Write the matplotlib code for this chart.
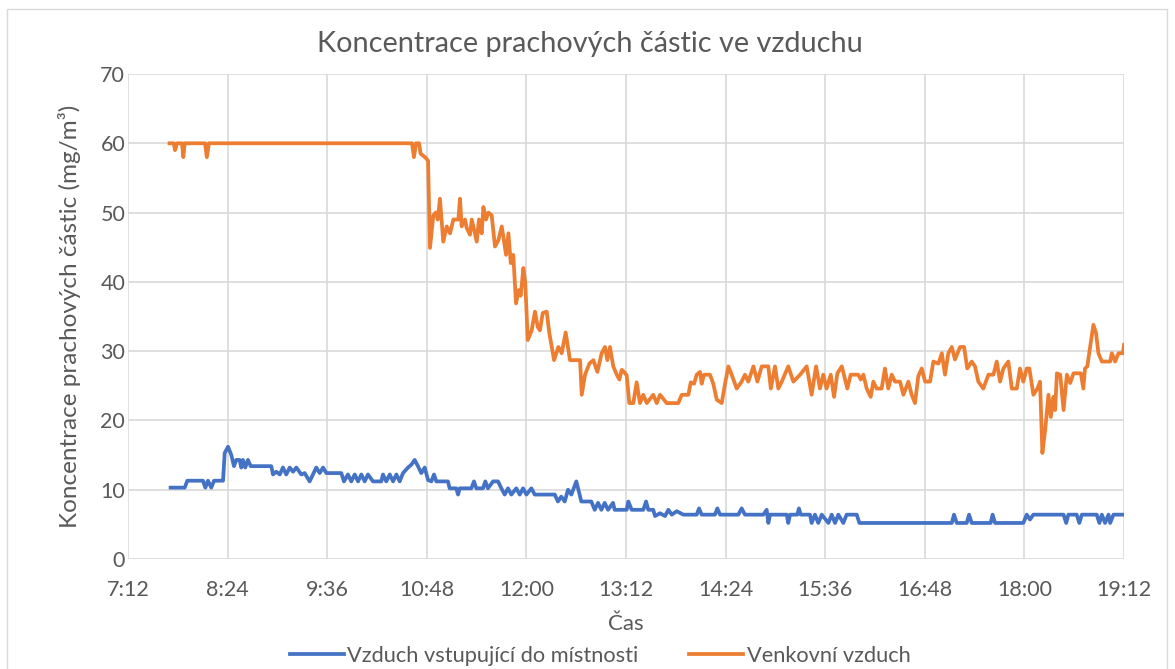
import matplotlib.pyplot as plt
from matplotlib.patches import Rectangle
from matplotlib.ticker import FixedLocator, FuncFormatter

plt.rcParams['font.family'] = ['Lato', 'DejaVu Sans']

# cas v minutach od pulnoci
t_venku = [462, 465, 466, 467.4, 471, 472, 473, 487.7, 489, 490.5, 637.3, 638.7, 640.2, 642.4,
           643.5, 646.7, 648.9, 650.3, 652.7, 654.6, 655.9, 657.5, 659.9, 662.4, 664.8, 667.2,
           670.8, 672, 673.2, 675.6, 676.8, 679.2, 680.5, 682.1, 684.1, 685.7, 687.7, 688.9,
           690.8, 692.5, 694.9, 697.3, 699.7, 702.2, 705.3, 707, 708.7, 710.5, 712.5, 714.4,
           715.9, 717.8, 719.2, 721, 723.8, 726.2, 728.2, 729.8, 731.8, 734.7, 736.5, 740,
           743.1, 745.5, 748.4, 751.5, 758.8, 760, 762.4, 765.5, 768.4, 771.3, 774.4, 776.8,
           778.5, 780.4, 782.8, 785.3, 787.2, 788.9, 790.6, 792.5, 794.4, 797.3, 799.7, 802.1,
           804.5, 807, 811.7, 814.2, 816.6, 821.4, 829.8, 832.3, 837.1, 838.8, 841.2, 843.1,
           845.5, 846.7, 848.4, 852.7, 855.1, 857.6, 861.2, 863.6, 866, 868.4, 872, 875.6,
           878, 880.4, 884.1, 887, 890.1, 894.9, 896.7, 899.7, 902.1, 904.6, 909.3, 913,
           917.8, 922.6, 926.2, 929.4, 932.2, 934.6, 937, 940, 942.4, 944.8, 948, 952, 954.4,
           959.9, 961.7, 963.6, 966, 968.9, 970.8, 973.2, 976.8, 979.2, 981.6, 984.1, 986.5,
           990.1, 992.5, 996.1, 998.5, 1000.9, 1003.3, 1005.8, 1008.2, 1011.8, 1014.2, 1017.8,
           1020.3, 1022.6, 1025, 1027.5, 1029.8, 1033.5, 1036.4, 1038.7, 1041.9, 1044.3,
           1046.7, 1050.3, 1054, 1057.6, 1060, 1062.4, 1064.8, 1068.4, 1070.9, 1074.5, 1076.8,
           1079.2, 1081.7, 1083.6, 1086.5, 1089.4, 1091.3, 1093, 1095, 1097.4, 1099.1, 1101,
           1102.2, 1103.5, 1105.9, 1108.3, 1110.7, 1113.1, 1115.5, 1120.8, 1122.6, 1123.8,
           1125.5, 1127.5, 1129.9, 1131.8, 1133.5, 1136, 1142, 1143.2, 1145.6, 1148, 1151.2, 1152]
venku = [60, 60, 59, 60, 60, 58, 60, 60, 58, 60, 60, 58, 60, 60,
         58.5, 58, 57.5, 44.9, 49.6, 50, 49, 52, 45.8, 48, 47, 49,
         49, 52, 48, 49, 47.8, 46.8, 49, 47.6, 45.8, 49, 47, 50.8,
         49, 50, 49.6, 45.1, 46, 48, 43.9, 47, 42.7, 43.9, 36.9, 38.8,
         38, 42, 39.8, 31.6, 33, 35.7, 33.5, 33, 35.5, 35.7, 32.7, 28.7,
         30.6, 29.7, 32.7, 28.7, 28.7, 23.7, 26.6, 28.2, 28.7, 27, 29.7, 30.6,
         28.7, 30.6, 27.8, 26.6, 25.9, 27.3, 27, 26.5, 22.5, 22.5, 25.5, 22.5,
         23.7, 22.5, 23.7, 22.5, 23.7, 22.5, 22.5, 23.7, 23.7, 25.5, 25.3, 26.6,
         27, 25.3, 26.6, 26.6, 25.3, 23, 22.5, 25.3, 27.8, 26.6, 24.6, 25.6,
         26.6, 25.6, 27.8, 25.6, 27.8, 27.8, 24.6, 27.8, 24.6, 25.6, 27.8, 25.6,
         26.6, 27.8, 23.7, 27.8, 24.6, 26.6, 24.6, 26.6, 23.4, 26.8, 27.8, 24.6, 26.6,
         26.6, 25.9, 26.6, 24.6, 23.4, 25.6, 24.6, 24.6, 27.5, 24.6, 26.6, 25.6,
         25.6, 23.7, 25.6, 23.7, 22.5, 26.4, 27.5, 25.6, 25.6, 28.5, 28.2,
         29.7, 26.6, 29.7, 30.6, 28.8, 30.6, 30.6, 27.5, 28.5, 27.8,
         25.6, 24.6, 26.6, 26.6, 28.5, 25.6, 27.5, 28.5, 24.6, 24.6, 27.5,
         25.6, 27.5, 27.5, 23.7, 24.6, 25.6, 15.3, 18.6, 23.7, 20.5, 23.4,
         21.5, 26.8, 26.6, 21.5, 26.6, 25.4, 26.8, 26.8, 24.6, 27.5,
         27.8, 30.6, 33.8, 32.6, 29.7, 28.5, 28.5, 29.7, 28.5, 29.7, 29.7, 30.9]

t_dovnitr = [462.8, 473, 474.9, 486.2, 487.9, 489.8, 492.2, 494.2, 500.7, 501.9, 504.3, 506.7,
             508.6, 510.3, 512.7, 513.9, 515.1, 516.8, 518.7, 520.7, 535.6, 536.8, 539.2, 541.7,
             544, 546.4, 548.9, 551.3, 553.7, 557.3, 559.7, 563.3, 565.7, 568.1, 570.6, 573,
             575.4, 586.2, 588.1, 591, 593.4, 595.9, 598.3, 600.7, 603.1, 605.5, 609.1, 615.1,
             616.3, 618.7, 621.2, 623.6, 626, 628.4, 630.8, 634.4, 636.8, 639.2, 641.6, 644,
             646.5, 648.9, 651.3, 653.2, 654.9, 663.3, 664.5, 669.3, 670.6, 671.8, 680.2, 682.1,
             683.8, 688.6, 690.3, 692.2, 695.9, 699.5, 701.9, 704.3, 706.7, 709.1, 712.7, 715.2,
             717.6, 720, 723.6, 726, 740.5, 742.8, 745.2, 747.7, 750.1, 752.5, 756.1, 759.7,
             766.9, 769.4, 771.8, 774.2, 776.6, 779, 782.6, 783.8, 792.5, 793.7, 796.1, 804.5,
             806.5, 808.1, 811.7, 813, 816.6, 820.2, 822.6, 825.1, 828.7, 833.4, 843.1, 844.8,
             846.7, 856.3, 858, 860, 873.2, 875.6, 878, 891.3, 893.7, 894.9, 896.1, 908.2,
             909.3, 910.6, 915.8, 917, 918.3, 925, 926.2, 928.6, 931, 933.5, 938.3, 940.7,
             943.1, 945.5, 949.1, 951.5, 958.8, 960.7, 1027.5, 1029.1, 1031.1, 1038.3, 1040,
             1041.9, 1055.6, 1057, 1058.8, 1079.2, 1081.7, 1084, 1086.5, 1108.3, 1110.2, 1111.8,
             1117.8, 1119.7, 1121.5, 1132.3, 1134.2, 1136, 1138.3, 1140.8, 1142, 1144.4, 1152]
dovnitr = [10.3, 10.3, 11.3, 11.3, 10.3, 11.3, 10.3, 11.3, 11.3, 15.3, 16.2, 15.0,
           13.4, 14.3, 14.3, 13.2, 14.3, 13.2, 14.3, 13.4, 13.4, 12.2, 12.6, 12.2,
           13.2, 12.2, 13.2, 12.6, 13.2, 12.2, 12.4, 11.2, 12.2, 13.2, 12.4, 13.2,
           12.4, 12.4, 11.2, 12.2, 11.2, 12.2, 11.2, 12.2, 11.2, 12.2, 11.2, 11.2,
           12.2, 11.2, 12.2, 11.2, 12.2, 11.2, 12.4, 13.2, 13.6, 14.3, 13.4, 12.4,
           13.2, 11.4, 11.2, 12.2, 11.2, 11.2, 10.2, 10.2, 9.3, 10.2, 10.2, 11.2,
           10.2, 10.2, 11.2, 10.2, 11.2, 11.2, 10.2, 9.3, 10.2, 9.3, 10.2, 9.3,
           10.2, 9.3, 10.2, 9.3, 9.3, 8.3, 9.0, 8.3, 10.0, 9.3, 11.2, 8.3,
           8.3, 7.1, 8.1, 7.1, 8.1, 7.1, 8.1, 7.1, 7.1, 8.3, 7.1, 7.1,
           8.3, 7.1, 7.1, 6.2, 6.6, 6.2, 7.1, 6.4, 6.9, 6.4, 6.4, 7.3,
           6.4, 6.4, 7.3, 6.4, 6.4, 7.3, 6.4, 6.4, 7.1, 5.2, 6.4, 6.4,
           5.2, 6.4, 6.4, 7.3, 6.4, 6.4, 5.2, 6.4, 5.2, 6.4, 5.2, 6.4,
           5.2, 6.4, 5.2, 6.4, 6.4, 5.2, 5.2, 6.4, 5.2, 5.2, 6.4,
           5.2, 5.2, 6.4, 5.2, 5.2, 6.4, 5.7, 6.4, 6.4, 5.2, 6.4,
           6.4, 5.2, 6.4, 6.4, 5.2, 6.4, 5.2, 6.4, 5.2, 6.4, 6.4]

x_ticks = [432, 504, 576, 648, 720, 792, 864, 936, 1008, 1080, 1152]
y_ticks = [0, 10, 20, 30, 40, 50, 60, 70]

seda = '#595959'
fig = plt.figure(figsize=(11.75, 6.69), dpi=100)
ax = fig.add_axes([128 / 1175, 1 - 559 / 669, 996 / 1175, 485 / 669])

ax.plot(t_dovnitr, dovnitr, color='#4472C4', lw=2.7, label='Vzduch vstupující do místnosti',
        solid_joinstyle='round')
ax.plot(t_venku, venku, color='#ED7D31', lw=2.7, label='Venkovní vzduch', solid_joinstyle='round')

ax.set_xlim(432, 1152)
ax.set_ylim(0, 70)
ax.xaxis.set_major_locator(FixedLocator(x_ticks))
ax.yaxis.set_major_locator(FixedLocator(y_ticks))
ax.xaxis.set_major_formatter(FuncFormatter(lambda v, p: f'{int(v) // 60}:{int(v) % 60:02d}'))
ax.grid(True, color='#D9D9D9', lw=1.2)
ax.set_axisbelow(True)
for s in ax.spines.values():
    s.set_visible(False)
ax.tick_params(length=0, labelsize=15.5, labelcolor=seda)
ax.tick_params(axis='x', pad=15)
ax.tick_params(axis='y', pad=2)

ax.set_xlabel('Čas', fontsize=16, color=seda, labelpad=10)
ax.set_ylabel('Koncentrace prachových částic (mg/m³)', fontsize=17.5, color=seda, labelpad=14)
fig.text(590 / 1175, 1 - 44 / 669, 'Koncentrace prachových částic ve vzduchu', fontsize=20.8,
         color=seda, ha='center', va='center')

fig.legend(loc='center', bbox_to_anchor=(600 / 1175, 1 - 656 / 669), ncol=2, frameon=False,
           fontsize=15.7, labelcolor=seda, handlelength=2.5, columnspacing=2.3, handletextpad=0.15)

fig.patches.append(Rectangle((7 / 1175, -0.01), 1160 / 1175, 1.01 - 9 / 669,
                             transform=fig.transFigure, fill=False, ec='#D9D9D9', lw=1))

fig.savefig('out.png', dpi=100)
